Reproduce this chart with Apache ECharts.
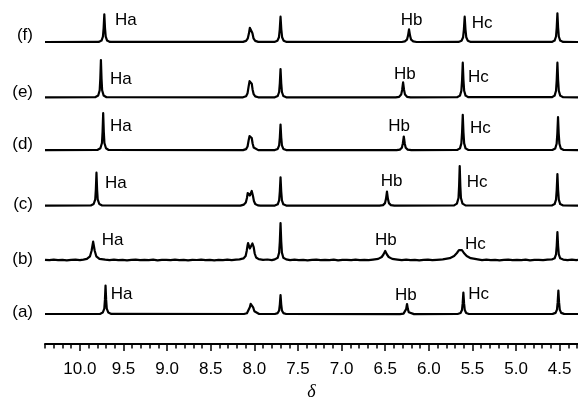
<!DOCTYPE html>
<html><head><meta charset="utf-8">
<script src="https://cdn.jsdelivr.net/npm/echarts@6/dist/echarts.min.js"></script>
<style>html,body{margin:0;padding:0;background:#fff}#c{width:578px;height:397px}</style>
</head><body><div id="c"></div>
<script>
// chemical shift (ppm), intensity
const rowLabels = ['(f)','(e)','(d)','(c)','(b)','(a)'];
const peakNames = ['Ha','Hb','Hc'];

const specF = [[10.4,0.3],
[9.785,0.4],[9.752,1.7],[9.736,5.6],[9.728,14],[9.72,28],[9.712,14],[9.704,5.6],[9.688,1.7],[9.655,0.4],
[8.13,0.4],[8.095,1.4],[8.075,4],[8.062,9],[8.052,14.5],[8.042,16],[8.032,14.5],[8.022,9],[8.01,4],[7.99,1.4],[7.955,0.4],
[7.77,0.4],[7.736,1.6],[7.718,5.1],[7.709,12.8],[7.70,25.6],[7.691,12.8],[7.682,5.1],[7.664,1.6],[7.63,0.4],
[6.31,0.3],[6.275,0.9],[6.251,2.6],[6.239,6.5],[6.227,13],[6.215,6.5],[6.203,2.6],[6.179,0.9],[6.14,0.3],
[5.66,0.4],[5.625,1.6],[5.607,5.1],[5.598,12.8],[5.589,25.6],[5.58,12.8],[5.571,5.1],[5.553,1.6],[5.52,0.4],
[4.59,0.4],[4.558,1.7],[4.542,5.8],[4.534,14.5],[4.526,29],[4.518,14.5],[4.51,5.8],[4.494,1.7],[4.46,0.4],
[4.29,0.3]];

const specE = [[10.4,0.3],
[9.825,0.5],[9.79,2.2],[9.773,7.5],[9.766,18.9],[9.759,37.7],[9.752,18.9],[9.745,7.5],[9.728,2.2],[9.695,0.5],
[8.13,0.4],[8.095,1.5],[8.078,4.5],[8.066,11],[8.055,16.5],[8.05,17],[8.043,14.5],[8.036,15.5],[8.03,14],[8.02,8],[8.008,3.5],[7.99,1.3],[7.955,0.4],
[7.765,0.4],[7.732,1.7],[7.716,5.7],[7.708,14.4],[7.70,28.7],[7.692,14.4],[7.684,5.7],[7.668,1.7],[7.635,0.4],
[6.38,0.3],[6.34,0.9],[6.317,3.1],[6.306,7.7],[6.295,15.3],[6.284,7.7],[6.273,3.1],[6.25,0.9],[6.21,0.3],
[5.676,0.5],[5.643,2.1],[5.627,7],[5.619,17.5],[5.611,35],[5.603,17.5],[5.595,7],[5.579,2.1],[5.546,0.5],
[4.59,0.5],[4.558,2.1],[4.542,7],[4.534,17.5],[4.526,35],[4.518,17.5],[4.51,7],[4.494,2.1],[4.46,0.5],
[4.29,0.3]];

const specD = [[10.4,0.3],
[9.8,0.5],[9.765,2.2],[9.747,7.5],[9.74,18.7],[9.733,37.3],[9.726,18.7],[9.719,7.5],[9.701,2.2],[9.67,0.5],
[8.13,0.4],[8.095,1.4],[8.078,4],[8.066,10],[8.055,14.5],[8.05,15],[8.043,13],[8.036,14],[8.03,12.5],[8.02,7],[8.008,3],[7.99,1.2],[7.955,0.4],
[7.765,0.4],[7.732,1.6],[7.716,5.2],[7.708,13],[7.70,26],[7.692,13],[7.684,5.2],[7.668,1.6],[7.635,0.4],
[6.37,0.3],[6.332,0.9],[6.309,2.8],[6.298,7],[6.287,14],[6.276,7],[6.265,2.8],[6.242,0.9],[6.2,0.3],
[5.676,0.5],[5.643,2.1],[5.627,7.1],[5.619,17.9],[5.611,35.7],[5.603,17.9],[5.595,7.1],[5.579,2.1],[5.546,0.5],
[4.584,0.5],[4.551,2],[4.535,6.7],[4.527,16.7],[4.519,33.3],[4.511,16.7],[4.503,6.7],[4.487,2],[4.454,0.5],
[4.29,0.3]];

const specC = [[10.4,0.3],
[9.875,0.5],[9.842,2],[9.824,6.7],[9.817,16.7],[9.81,33.3],[9.803,16.7],[9.796,6.7],[9.778,2],[9.745,0.5],
[8.16,0.4],[8.12,1.4],[8.098,3.5],[8.085,8],[8.076,13],[8.07,15],[8.062,13.5],[8.052,10.5],[8.046,10],[8.038,12.5],[8.03,15],[8.024,14.5],[8.016,10],[8.005,5],[7.99,2],[7.96,0.6],[7.93,0.3],
[7.765,0.4],[7.732,1.7],[7.716,5.7],[7.708,14.4],[7.70,28.7],[7.692,14.4],[7.684,5.7],[7.668,1.7],[7.635,0.4],
[6.565,0.3],[6.525,0.9],[6.502,2.9],[6.491,7.2],[6.48,14.3],[6.469,7.2],[6.458,2.9],[6.435,0.9],[6.395,0.3],
[5.71,0.6],[5.678,2.4],[5.66,8],[5.653,20],[5.646,40],[5.639,20],[5.632,8],[5.614,2.4],[5.58,0.6],
[4.59,0.5],[4.558,1.9],[4.542,6.4],[4.534,16],[4.526,32],[4.518,16],[4.51,6.4],[4.494,1.9],[4.46,0.5],
[4.29,0.3]];

const specB = [[10.4,0.2],[10.35,-0.2],[10.3,0.3],[10.25,-0.1],[10.2,0.2],[10.15,-0.3],[10.1,0.1],[10.05,0.3],[10.0,-0.1],[9.96,0.4],
[9.92,1.1],[9.884,3.7],[9.866,9.2],[9.848,18.3],[9.83,9.2],[9.812,3.7],[9.776,1.1],[9.71,0.3],
[9.66,-0.2],[9.61,0.3],[9.56,-0.1],[9.51,0.2],[9.46,-0.3],[9.41,0.1],[9.36,0.3],[9.31,-0.2],[9.26,0.2],[9.21,-0.1],[9.16,0.3],[9.11,-0.3],[9.06,0.1],[9.01,0.2],[8.96,-0.2],[8.91,0.3],[8.86,-0.1],[8.81,0.2],[8.76,-0.3],[8.71,0.2],[8.66,0.0],[8.61,0.3],[8.56,-0.2],[8.51,0.1],[8.46,-0.3],[8.41,0.2],[8.36,-0.1],[8.31,0.3],[8.26,-0.2],[8.21,0.4],
[8.17,0.6],[8.125,1.6],[8.1,4],[8.088,9],[8.078,14.5],[8.072,17],[8.064,15],[8.052,11.5],[8.043,11],[8.032,13],[8.022,16.5],[8.015,17],[8.008,13],[7.996,6.5],[7.98,2.5],[7.95,0.8],[7.9,0.2],[7.85,0.5],[7.8,-0.1],
[7.765,0.6],[7.732,2.2],[7.716,7.4],[7.708,18.5],[7.70,37],[7.692,18.5],[7.684,7.4],[7.668,2.2],[7.635,0.6],
[7.59,-0.2],[7.54,0.3],[7.49,-0.1],[7.44,0.2],[7.39,-0.3],[7.34,0.1],[7.29,0.3],[7.24,-0.2],[7.19,0.2],[7.14,-0.1],[7.09,0.3],[7.04,-0.3],[6.99,0.1],[6.94,0.2],[6.89,-0.2],[6.84,0.3],[6.79,-0.1],[6.74,0.2],[6.69,-0.2],
[6.64,0.4],[6.58,1.1],[6.54,3],[6.52,5.5],[6.50,9],[6.48,5.5],[6.46,3],[6.42,1.1],[6.36,0.4],
[6.31,-0.2],[6.26,0.3],[6.21,-0.1],[6.16,0.2],[6.11,-0.3],[6.06,0.1],[6.01,0.3],[5.96,-0.2],[5.91,0.2],[5.87,0.4],
[5.84,0.6],[5.76,1.8],[5.71,4],[5.678,7],[5.655,9.8],[5.638,10.7],[5.62,9.8],[5.598,7],[5.566,4],[5.52,1.8],[5.44,0.6],
[5.39,-0.2],[5.34,0.3],[5.29,-0.1],[5.24,0.2],[5.19,-0.3],[5.14,0.1],[5.09,0.3],[5.04,-0.2],[4.99,0.2],[4.94,-0.1],[4.89,0.3],[4.84,-0.3],[4.79,0.1],[4.74,0.2],[4.69,-0.2],[4.64,0.3],
[4.59,0.5],[4.558,1.7],[4.542,5.6],[4.534,14],[4.526,28],[4.518,14],[4.51,5.6],[4.494,1.7],[4.46,0.4],
[4.41,-0.2],[4.36,0.3],[4.31,-0.1],[4.29,0.2]];

const specA = [[10.4,0.3],
[9.77,0.4],[9.738,1.7],[9.72,5.7],[9.713,14.4],[9.706,28.7],[9.699,14.4],[9.692,5.7],[9.674,1.7],[9.64,0.4],
[8.12,0.3],[8.085,1],[8.065,3],[8.052,7],[8.042,10.5],[8.033,11],[8.024,10.5],[8.014,7],[8.0,3],[7.98,1],[7.945,0.3],
[7.765,0.3],[7.732,1.2],[7.716,3.9],[7.708,9.7],[7.70,19.3],[7.692,9.7],[7.684,3.9],[7.668,1.2],[7.635,0.3],
[6.33,0.2],[6.29,0.7],[6.27,2.1],[6.26,5.2],[6.25,10.3],[6.24,5.2],[6.23,2.1],[6.21,0.7],[6.17,0.2],
[5.67,0.3],[5.636,1.3],[5.62,4.3],[5.612,10.9],[5.604,21.7],[5.596,10.9],[5.588,4.3],[5.572,1.3],[5.54,0.3],
[4.58,0.4],[4.547,1.4],[4.531,4.7],[4.523,11.9],[4.515,23.7],[4.507,11.9],[4.499,4.7],[4.483,1.4],[4.45,0.4],
[4.29,0.3]];

const spectra = [specF, specE, specD, specC, specB, specA];

const majorTicks = [10.0,9.5,9.0,8.5,8.0,7.5,7.0,6.5,6.0,5.5,5.0,4.5];
const minorTicks = [10.4,10.3,10.2,10.1,10.0,9.9,9.8,9.7,9.6,9.5,9.4,9.3,9.2,9.1,9.0,8.9,8.8,8.7,8.6,8.5,8.4,8.3,8.2,8.1,8.0,7.9,7.8,7.7,7.6,7.5,7.4,7.3,7.2,7.1,7.0,6.9,6.8,6.7,6.6,6.5,6.4,6.3,6.2,6.1,6.0,5.9,5.8,5.7,5.6,5.5,5.4,5.3,5.2,5.1,5.0,4.9,4.8,4.7,4.6,4.5,4.4,4.3];

// layout
const X_MIN = 4.29, X_MAX = 10.4;
const baselines = [42.3, 97.7, 150.5, 206, 260, 314.3];
const rowLabelY = [35, 92.5, 144, 204, 259, 312.5];
const peakLabelPos = [
  [[115,20],[400.7,20.5],[471.7,23]],
  [[110,79],[394,74.5],[468,77]],
  [[110,126],[388.3,126],[470,128.3]],
  [[105,183.3],[380.7,181.7],[466.7,182]],
  [[101.7,240.7],[375,240.7],[465,244.3]],
  [[110.7,294],[395,295.7],[468.3,294]]
];
const H = 40;

const grids = [], xAxes = [], yAxes = [], series = [], graphics = [];
spectra.forEach((d, i) => {
  grids.push({left: 45, right: 0, top: baselines[i] - H, height: H, outerBoundsMode: 'none', containLabel: false});
  xAxes.push({type: 'value', gridIndex: i, min: X_MIN, max: X_MAX, inverse: true, show: false});
  yAxes.push({type: 'value', gridIndex: i, min: 0, max: H, show: false});
  series.push({type: 'line', xAxisIndex: i, yAxisIndex: i, data: d, showSymbol: false, symbol: 'none',
    clip: false, silent: true, lineStyle: {color: '#000', width: 2.2, join: 'round'}});
  graphics.push({type: 'text', x: 33, y: rowLabelY[i],
    style: {text: rowLabels[i], fill: '#000', fontSize: 17, fontFamily: 'Liberation Sans', align: 'right', verticalAlign: 'middle'}});
  peakNames.forEach((n, k) => {
    graphics.push({type: 'text', x: peakLabelPos[i][k][0], y: peakLabelPos[i][k][1],
      style: {text: n, fill: '#000', fontSize: 17, fontFamily: 'Liberation Sans', align: 'left', verticalAlign: 'middle'}});
  });
});
// axis grid
const ag = grids.length;
grids.push({left: 45, right: 0, top: 304, height: 40, outerBoundsMode: 'none', containLabel: false});
yAxes.push({type: 'value', gridIndex: ag, min: 0, max: 1, show: false});
xAxes.push({type: 'value', gridIndex: ag, min: X_MIN, max: X_MAX, inverse: true, position: 'bottom',
  axisLine: {show: true, lineStyle: {color: '#000', width: 2}},
  axisTick: {show: true, customValues: majorTicks, length: 7, lineStyle: {color: '#000', width: 1.5}},
  axisLabel: {show: true, customValues: majorTicks, formatter: v => v.toFixed(1), fontSize: 17, color: '#000', fontFamily: 'Liberation Sans', margin: 17},
  splitLine: {show: false},
  name: 'δ', nameLocation: 'middle', nameGap: 39,
  nameTextStyle: {fontStyle: 'italic', fontFamily: 'Liberation Serif', fontSize: 18, color: '#000'}});
xAxes.push({type: 'value', gridIndex: ag, min: X_MIN, max: X_MAX, inverse: true, position: 'bottom',
  axisLine: {show: false},
  axisTick: {show: true, customValues: minorTicks, length: 4.5, lineStyle: {color: '#000', width: 1.5}},
  axisLabel: {show: false}, splitLine: {show: false}});

const chart = echarts.init(document.getElementById('c'), null, {renderer: 'canvas'});
chart.setOption({
  animation: false,
  backgroundColor: '#fff',
  grid: grids, xAxis: xAxes, yAxis: yAxes, series: series, graphic: graphics
});
</script></body></html>
